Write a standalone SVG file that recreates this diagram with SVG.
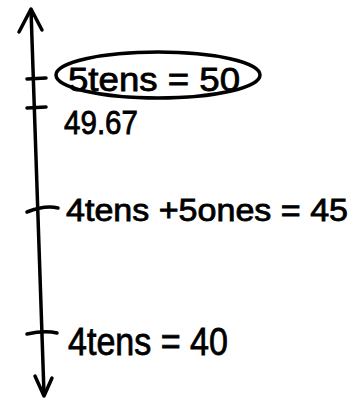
<svg xmlns="http://www.w3.org/2000/svg" width="361" height="400" viewBox="0 0 361 400">
<style>
.ln{stroke:#000;stroke-width:3.5;fill:none;stroke-linecap:round;stroke-linejoin:round}
.t{font-family:"Liberation Sans",Arial,sans-serif;fill:#000;stroke:#000;stroke-width:0.8}
</style>
<rect width="361" height="400" fill="#fff"/>
<g id="connectors">
<path class="ln" d="M31,10 L44,394"/>
<path class="ln" d="M19,32 L31,9 L42,30"/>
<path class="ln" d="M35,376 L44,396 L52,378"/>
</g>
<g id="tick-50">
<path class="ln" d="M27,79 L46,78"/>
<ellipse class="ln" cx="158" cy="75" rx="102" ry="23" stroke-width="3"/>
<text class="t" x="68" y="91" font-size="33" textLength="172" lengthAdjust="spacingAndGlyphs">5tens = 50</text>
</g>
<g id="tick-4967">
<path class="ln" d="M27,108 L46,107"/>
<text class="t" x="64" y="134" font-size="33" textLength="74" lengthAdjust="spacingAndGlyphs">49.67</text>
</g>
<g id="tick-45">
<path class="ln" d="M27,212 Q45,205 58,208"/>
<text class="t" x="66" y="221" font-size="31" textLength="282" lengthAdjust="spacingAndGlyphs">4tens +5ones = 45</text>
</g>
<g id="tick-40">
<path class="ln" d="M27,334 Q45,330 57,333"/>
<text class="t" x="68" y="355" font-size="39" textLength="160" lengthAdjust="spacingAndGlyphs">4tens = 40</text>
</g>
</svg>
